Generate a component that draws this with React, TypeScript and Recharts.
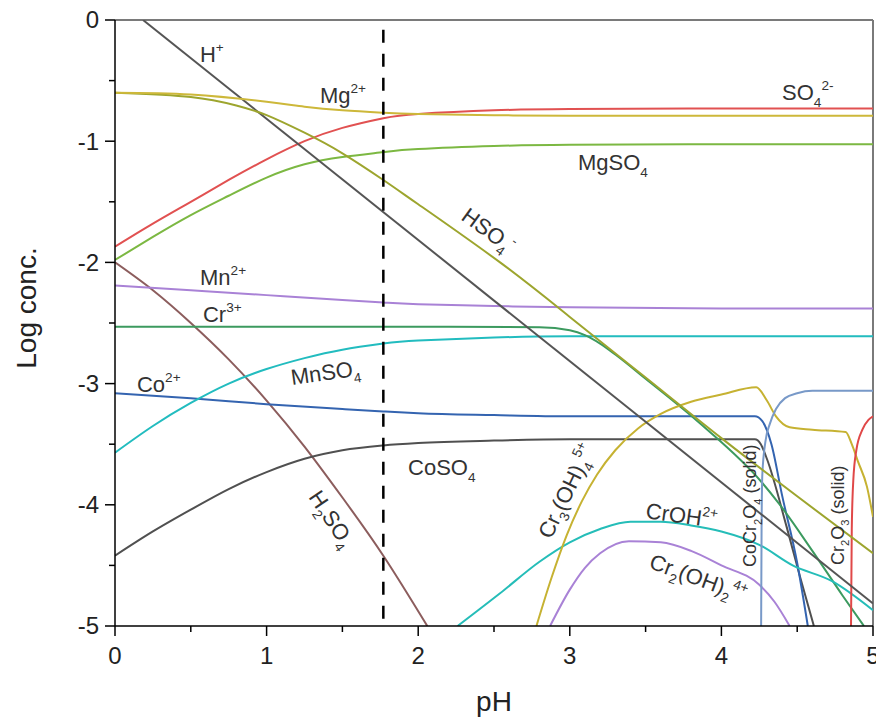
import React from 'react';
import { LineChart, Line, XAxis, YAxis, ReferenceLine, ReferenceDot, Customized } from 'recharts';

type Pt = [number, number];

// pH vs log concentration
const hPlus: Pt[] = [[0.185, 0], [5, -4.815]];
const mg2: Pt[] = [[0, -0.6], [0.5, -0.615], [1, -0.675], [1.25, -0.715], [1.5, -0.745], [1.77, -0.765], [2, -0.775], [2.5, -0.785], [3, -0.79], [4, -0.79], [5, -0.79]];
const so4: Pt[] = [[0, -1.87], [0.25, -1.68], [0.5, -1.5], [0.75, -1.32], [1, -1.15], [1.25, -1.0], [1.5, -0.89], [1.77, -0.81], [2, -0.775], [2.5, -0.745], [3, -0.735], [4, -0.73], [5, -0.73]];
const mgso4: Pt[] = [[0, -1.98], [0.25, -1.79], [0.5, -1.61], [0.75, -1.45], [1, -1.3], [1.25, -1.19], [1.5, -1.13], [1.77, -1.09], [2, -1.065], [2.5, -1.04], [3, -1.03], [4, -1.025], [5, -1.025]];
const hso4: Pt[] = [[0, -0.6], [0.5, -0.635], [0.8, -0.705], [1, -0.785], [1.25, -0.93], [1.5, -1.1], [1.77, -1.32], [2, -1.52], [2.54, -2.0], [3, -2.45], [3.5, -2.95], [4, -3.45], [4.5, -3.93], [5, -4.4]];
const mn2: Pt[] = [[0, -2.19], [0.5, -2.23], [1, -2.27], [1.5, -2.31], [1.77, -2.33], [2, -2.345], [2.5, -2.36], [3, -2.37], [4, -2.38], [5, -2.38]];
const cr3: Pt[] = [[0, -2.53], [1, -2.53], [2, -2.53], [2.8, -2.535], [3, -2.56], [3.1, -2.6], [3.2, -2.67], [3.3, -2.76], [3.5, -2.96], [3.86, -3.33], [4.27, -3.82], [4.38, -3.99], [4.6, -4.38], [4.8, -4.75], [4.94, -5]];
const mnso4: Pt[] = [[0, -3.57], [0.25, -3.35], [0.5, -3.16], [0.75, -3.0], [1, -2.88], [1.25, -2.79], [1.5, -2.72], [1.77, -2.67], [2, -2.645], [2.5, -2.62], [3, -2.61], [4, -2.61], [5, -2.61]];
const co2: Pt[] = [[0, -3.08], [0.5, -3.12], [1, -3.17], [1.5, -3.21], [1.77, -3.23], [2, -3.245], [2.5, -3.26], [3, -3.27], [4, -3.27], [4.22, -3.27], [4.27, -3.31], [4.33, -3.5], [4.4, -3.92], [4.5, -4.48], [4.57, -5]];
const coso4: Pt[] = [[0, -4.42], [0.25, -4.22], [0.5, -4.04], [0.75, -3.87], [1, -3.73], [1.25, -3.62], [1.5, -3.55], [1.77, -3.51], [2, -3.49], [2.5, -3.47], [3, -3.46], [4.22, -3.46], [4.26, -3.5], [4.3, -3.62], [4.43, -4.18], [4.52, -4.6], [4.61, -5]];
const h2so4: Pt[] = [[0, -2.0], [0.25, -2.23], [0.5, -2.5], [0.75, -2.8], [1, -3.14], [1.25, -3.52], [1.5, -3.94], [1.77, -4.42], [2.06, -5]];
const cr3oh4: Pt[] = [[2.78, -5], [2.88, -4.6], [2.98, -4.25], [3.08, -3.97], [3.18, -3.75], [3.3, -3.55], [3.45, -3.37], [3.6, -3.25], [3.8, -3.15], [4, -3.09], [4.23, -3.03], [4.3, -3.14], [4.36, -3.27], [4.45, -3.36], [4.6, -3.38], [4.82, -3.4], [4.86, -3.5], [4.9, -3.64], [4.96, -3.85], [5, -4.1]];
const croh2: Pt[] = [[2.26, -5], [2.54, -4.73], [2.8, -4.47], [3, -4.31], [3.2, -4.2], [3.4, -4.14], [3.6, -4.14], [3.8, -4.17], [4, -4.22], [4.25, -4.33], [4.47, -4.5], [4.73, -4.63], [5, -4.87]];
const cr2oh2: Pt[] = [[2.87, -5], [3, -4.7], [3.1, -4.52], [3.2, -4.4], [3.39, -4.3], [3.6, -4.31], [3.8, -4.38], [4, -4.5], [4.25, -4.66], [4.35, -4.8], [4.45, -5]];
const cocr2o4: Pt[] = [[4.262, -5], [4.265, -4.2], [4.27, -3.75], [4.29, -3.48], [4.32, -3.33], [4.36, -3.21], [4.42, -3.12], [4.5, -3.08], [4.6, -3.06], [5, -3.06]];
const cr2o3: Pt[] = [[4.855, -5], [4.86, -4.2], [4.87, -3.8], [4.89, -3.55], [4.93, -3.38], [4.97, -3.3], [5, -3.27]];

const xTicks = [0, 0.5, 1, 1.5, 2, 2.5, 3, 3.5, 4, 4.5, 5];
const yTicks = [0, -0.5, -1, -1.5, -2, -2.5, -3, -3.5, -4, -4.5, -5];
const phLine = 1.77;

const series = [
  { id: 'h2so4', data: h2so4, color: '#8c5d5d', curve: 'natural' },
  { id: 'coso4', data: coso4, color: '#505050', curve: 'monotone' },
  { id: 'co2', data: co2, color: '#3464b0', curve: 'monotone' },
  { id: 'mnso4', data: mnso4, color: '#22bcbf', curve: 'natural' },
  { id: 'cr3', data: cr3, color: '#3c9a5f', curve: 'monotone' },
  { id: 'mn2', data: mn2, color: '#a982d6', curve: 'natural' },
  { id: 'croh2', data: croh2, color: '#25bdb8', curve: 'monotone' },
  { id: 'cr2oh2', data: cr2oh2, color: '#a982d6', curve: 'monotone' },
  { id: 'cr3oh4', data: cr3oh4, color: '#c6b232', curve: 'monotone' },
  { id: 'cocr2o4', data: cocr2o4, color: '#7899c8', curve: 'monotone' },
  { id: 'cr2o3', data: cr2o3, color: '#e04848', curve: 'monotone' },
  { id: 'mgso4', data: mgso4, color: '#7cb842', curve: 'natural' },
  { id: 'so4', data: so4, color: '#e15151', curve: 'natural' },
  { id: 'hplus', data: hPlus, color: '#555555', curve: 'linear' },
  { id: 'hso4', data: hso4, color: '#9da52e', curve: 'natural' },
  { id: 'mg2', data: mg2, color: '#cdb83a', curve: 'natural' },
];

type Part = [string, '' | 'sub' | 'sup'];

// species labels: anchor is the left end of the baseline
const labels: { x: number; y: number; parts: Part[]; angle?: number; size?: number }[] = [
  { x: 0.56, y: -0.347, parts: [['H', ''], ['+', 'sup']] },
  { x: 1.352, y: -0.685, parts: [['Mg', ''], ['2+', 'sup']] },
  { x: 4.4, y: -0.66, parts: [['SO', ''], ['4', 'sub'], ['2-', 'sup']] },
  { x: 3.054, y: -1.238, parts: [['MgSO', ''], ['4', 'sub']] },
  { x: 2.275, y: -1.642, parts: [['HSO', ''], ['4', 'sub'], ['-', 'sup']], angle: 36 },
  { x: 0.561, y: -2.186, parts: [['Mn', ''], ['2+', 'sup']] },
  { x: 0.58, y: -2.49, parts: [['Cr', ''], ['3+', 'sup']] },
  { x: 0.145, y: -3.07, parts: [['Co', ''], ['2+', 'sup']] },
  { x: 1.167, y: -3.012, parts: [['MnSO', ''], ['4', 'sub']], angle: -8 },
  { x: 1.933, y: -3.754, parts: [['CoSO', ''], ['4', 'sub']] },
  { x: 1.273, y: -3.936, parts: [['H', ''], ['2', 'sub'], ['SO', ''], ['4', 'sub']], angle: 56 },
  { x: 2.876, y: -4.29, parts: [['Cr', ''], ['3', 'sub'], ['(OH)', ''], ['4', 'sub'], ['5+', 'sup']], angle: -64 },
  { x: 3.496, y: -4.109, parts: [['CrOH', ''], ['2+', 'sup']], angle: 8 },
  { x: 3.516, y: -4.52, parts: [['Cr', ''], ['2', 'sub'], ['(OH)', ''], ['2', 'sub'], ['4+', 'sup']], angle: 20 },
  { x: 4.23, y: -4.513, parts: [['CoCr', ''], ['2', 'sub'], ['O', ''], ['4', 'sub'], [' (solid)', '']], angle: -90, size: 18 },
  { x: 4.807, y: -4.497, parts: [['Cr', ''], ['2', 'sub'], ['O', ''], ['3', 'sub'], [' (solid)', '']], angle: -90, size: 18 },
];

const FONT = "'Liberation Sans', Arial, sans-serif";

const toRows = (pts: Pt[]) => pts.map(([x, y]) => ({ x, y }));

function chem(parts: Part[], size: number) {
  let off = 0;
  return parts.map(([t, k], i) => {
    const target = k === 'sub' ? size * 0.3 : k === 'sup' ? -size * 0.45 : 0;
    const dy = target - off;
    off = target;
    return (
      <tspan key={i} dy={dy} fontSize={k ? size * 0.62 : size}>
        {t}
      </tspan>
    );
  });
}

const ChemLabel = ({ cx, cy, parts, angle = 0, size = 22 }: any) => (
  <text x={cx} y={cy} transform={`rotate(${angle} ${cx} ${cy})`} fill="#333" fontFamily={FONT} fontSize={size}>
    {chem(parts, size)}
  </text>
);

const XTick = ({ x, y, payload }: any) => {
  const major = Number.isInteger(payload.value);
  return (
    <g>
      <line x1={x} x2={x} y1={y} y2={y + (major ? 10 : 6)} stroke="#000" strokeWidth={1.5} />
      {major && (
        <text x={x} y={y + 38} textAnchor="middle" fontSize={24} fontFamily={FONT} fill="#222">
          {payload.value}
        </text>
      )}
    </g>
  );
};

const YTick = ({ x, y, payload }: any) => {
  const major = Number.isInteger(payload.value);
  return (
    <g>
      <line x1={x} x2={x - (major ? 10 : 6)} y1={y} y2={y} stroke="#000" strokeWidth={1.5} />
      {major && (
        <text x={x - 16} y={y} dy="0.35em" textAnchor="end" fontSize={24} fontFamily={FONT} fill="#222">
          {payload.value}
        </text>
      )}
    </g>
  );
};

const AxisTitles = () => (
  <g fontFamily={FONT} fill="#222" fontSize={28}>
    <text x={494} y={711} textAnchor="middle">pH</text>
    <text x={36} y={308} textAnchor="middle" transform="rotate(-90 36 308)">Log conc.</text>
  </g>
);

export default function App() {
  return (
    <div style={{ position: 'absolute', left: 0, top: 0, background: '#fff' }}>
      <LineChart width={876} height={720} margin={{ top: 20, right: 3, bottom: 0, left: 0 }}>
        <XAxis
          dataKey="x"
          type="number"
          domain={[0, 5]}
          ticks={xTicks}
          interval={0}
          allowDataOverflow
          tickLine={false}
          tickSize={0}
          tickMargin={0}
          tick={(p: any) => <XTick {...p} />}
          axisLine={{ stroke: '#000', strokeWidth: 1.5 }}
          height={94}
        />
        <YAxis
          type="number"
          domain={[-5, 0]}
          ticks={yTicks}
          interval={0}
          allowDataOverflow
          tickLine={false}
          tickSize={0}
          tickMargin={0}
          tick={(p: any) => <YTick {...p} />}
          axisLine={{ stroke: '#000', strokeWidth: 1.5 }}
          width={115}
        />
        <ReferenceLine y={0} stroke="#7a7a7a" strokeWidth={2} />
        <ReferenceLine x={5} stroke="#7a7a7a" strokeWidth={2} />
        {series.map((s) => (
          <Line
            key={s.id}
            data={toRows(s.data)}
            dataKey="y"
            type={s.curve as any}
            stroke={s.color}
            strokeWidth={2}
            dot={false}
            activeDot={false}
            isAnimationActive={false}
          />
        ))}
        <ReferenceLine
          segment={[{ x: phLine, y: -0.08 }, { x: phLine, y: -5 }]}
          stroke="#000"
          strokeWidth={2.5}
          strokeDasharray="13 11"
        />
        {labels.map((l, i) => (
          <ReferenceDot
            key={i}
            x={l.x}
            y={l.y}
            r={0}
            ifOverflow="visible"
            shape={(p: any) => <ChemLabel cx={p.cx} cy={p.cy} parts={l.parts} angle={l.angle} size={l.size} />}
          />
        ))}
        <Customized component={<AxisTitles />} />
      </LineChart>
    </div>
  );
}
